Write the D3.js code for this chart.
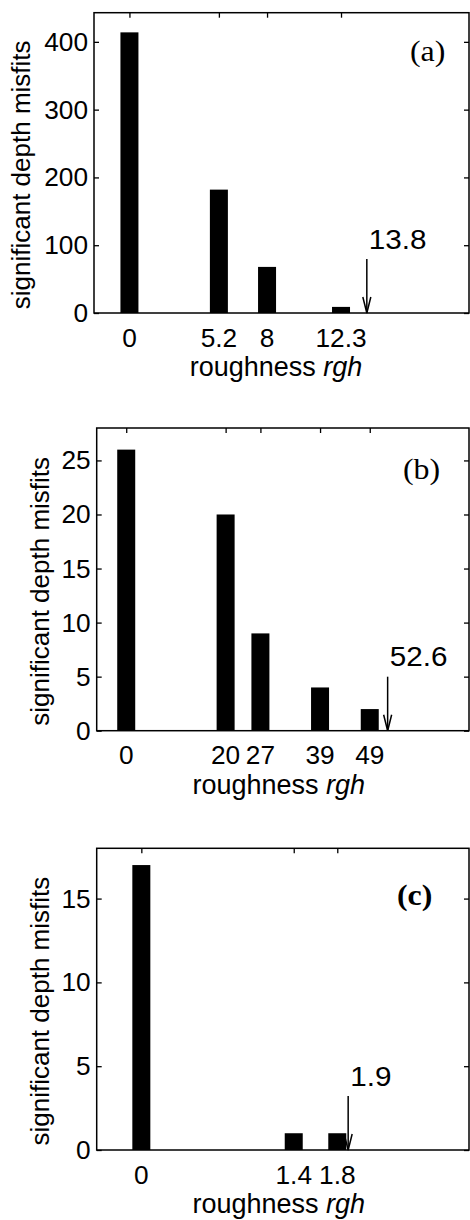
<!DOCTYPE html>
<html>
<head>
<meta charset="utf-8">
<script src="https://cdn.jsdelivr.net/npm/d3@7"></script>
<style>
  body { margin: 0; background: #fff; }
  svg { display: block; }
  text { font-family: "Liberation Sans", Arial, Helvetica, sans-serif; fill: #000; }
  .panelLabel { font-family: "Liberation Serif", "Times New Roman", serif; }
</style>
</head>
<body>
<svg width="470" height="1220"></svg>
<script>
// data
const rghA = [0, 5.2, 8, 12.3];
const misfitsA = [414, 182, 68, 9];
const limitA = 13.8;
const yTicksA = [0, 100, 200, 300, 400];

const rghB = [0, 20, 27, 39, 49];
const misfitsB = [26, 20, 9, 4, 2];
const limitB = 52.6;
const yTicksB = [0, 5, 10, 15, 20, 25];

const rghC = [0, 1.4, 1.8];
const misfitsC = [17, 1, 1];
const limitC = 1.9;
const yTicksC = [0, 5, 10, 15];

const panelNames = ["(a)", "(b)", "(c)"];

//general layout information
const barW = 18;
const tickLen = 5;

const panels = [
    {
        name: panelNames[0], rgh: rghA, vals: misfitsA, limit: limitA, yTicks: yTicksA,
        left: 94, right: 469, top: 12.7, bottom: 313,
        xDom: [-2.06, 19.74], yDom: [0, 443],
        yLabX: 30, nameX: 410, nameY: 61, bold: false
    },
    {
        name: panelNames[1], rgh: rghB, vals: misfitsB, limit: limitB, yTicks: yTicksB,
        left: 96.7, right: 469, top: 428, bottom: 730.7,
        xDom: [-5.94, 68.97], yDom: [0, 28],
        yLabX: 49, nameX: 403, nameY: 479, bold: false
    },
    {
        name: panelNames[2], rgh: rghC, vals: misfitsC, limit: limitC, yTicks: yTicksC,
        left: 96.7, right: 469, top: 848.3, bottom: 1150,
        xDom: [-0.41, 3.01], yDom: [0, 18],
        yLabX: 49, nameX: 397, nameY: 905, bold: true
    }
];

let svg = d3.select("svg");

function stretchedText(g, x, y, str, size, anchor, sx) {
    return g.append("text")
        .attr("transform", "translate(" + x + "," + y + ") scale(" + sx + ",1)")
        .attr("text-anchor", anchor)
        .attr("font-size", size)
        .text(str);
}

panels.forEach(function (p) {
    let g = svg.append("g");
    let x = d3.scaleLinear().domain(p.xDom).range([p.left, p.right]);
    let y = d3.scaleLinear().domain(p.yDom).range([p.bottom, p.top]);

    //bars
    g.selectAll(".bar")
        .data(p.rgh)
        .enter()
        .append("rect")
        .attr("class", "bar")
        .attr("x", (d) => x(d) - barW / 2)
        .attr("width", barW)
        .attr("y", (d, i) => y(p.vals[i]))
        .attr("height", (d, i) => y(0) - y(p.vals[i]))
        .attr("fill", "#000");

    //axes, ticks inward on all four sides, labels on left and bottom
    let yLeft = d3.axisRight(y).tickValues(p.yTicks).tickSize(tickLen).tickFormat("");
    let yRight = d3.axisLeft(y).tickValues(p.yTicks).tickSize(tickLen).tickFormat("");
    let xTop = d3.axisBottom(x).tickValues(p.rgh).tickSize(tickLen).tickFormat("");
    let xBot = d3.axisTop(x).tickValues(p.rgh).tickSize(tickLen).tickFormat("");

    g.append("g").attr("transform", "translate(" + p.left + ",0)").call(yLeft);
    g.append("g").attr("transform", "translate(" + p.right + ",0)").call(yRight);
    g.append("g").attr("transform", "translate(0," + p.top + ")").call(xTop);
    g.append("g").attr("transform", "translate(0," + p.bottom + ")").call(xBot);
    g.selectAll(".domain").remove();
    g.selectAll(".tick line").attr("stroke", "#000").attr("stroke-width", 1.3);

    //box
    g.append("rect")
        .attr("x", p.left)
        .attr("y", p.top)
        .attr("width", p.right - p.left)
        .attr("height", p.bottom - p.top)
        .attr("fill", "none")
        .attr("stroke", "#000")
        .attr("stroke-width", 1.5);

    //tick labels
    p.yTicks.forEach(function (t) {
        stretchedText(g, p.left - 6, y(t) + 9, t, 25, "end", 1.05);
    });
    p.rgh.forEach(function (t) {
        stretchedText(g, x(t), p.bottom + 33.5, t, 25, "middle", 1.05);
    });

    //axis titles
    let xl = g.append("text")
        .attr("transform", "translate(" + (p.left + 182) + "," + (p.bottom + 63) + ")")
        .attr("text-anchor", "middle")
        .attr("font-size", 27);
    xl.append("tspan").text("roughness ");
    xl.append("tspan").attr("font-style", "italic").text("rgh");

    g.append("text")
        .attr("transform", "translate(" + p.yLabX + "," + ((p.top + p.bottom) / 2 + 12) + ") rotate(-90)")
        .attr("text-anchor", "middle")
        .attr("font-size", 26)
        .text("significant depth misfits");

    //panel name
    g.append("text")
        .attr("class", "panelLabel")
        .attr("transform", "translate(" + p.nameX + "," + p.nameY + ") scale(1.1,1)")
        .attr("font-size", 29)
        .attr("font-weight", p.bold ? "bold" : "normal")
        .text(p.name);

    //arrow marking the threshold roughness
    let ax = x(p.limit);
    let a0 = p.bottom - 54;
    g.append("line")
        .attr("x1", ax).attr("x2", ax)
        .attr("y1", a0).attr("y2", p.bottom)
        .attr("stroke", "#000").attr("stroke-width", 1.5);
    g.append("path")
        .attr("d", "M" + (ax - 4) + "," + (p.bottom - 16) + "L" + ax + "," + p.bottom + "L" + (ax + 4) + "," + (p.bottom - 16))
        .attr("fill", "none")
        .attr("stroke", "#000")
        .attr("stroke-width", 1.5);
    stretchedText(g, ax + 2, a0 - 10.5, p.limit, 28, "start", 1.06);
});
</script>
</body>
</html>
